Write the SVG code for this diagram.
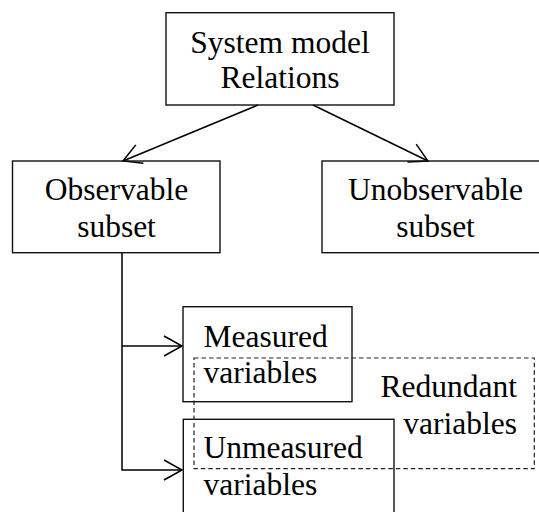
<svg xmlns="http://www.w3.org/2000/svg" width="539" height="512" viewBox="0 0 539 512">
<defs>
<style>
.box{fill:none;stroke:#111;stroke-width:1.4}
.dash{fill:none;stroke:#222;stroke-width:1.2;stroke-dasharray:4.5 3}
text{font-family:'Liberation Serif','DejaVu Serif',serif;font-size:31.5px;fill:#000}
.c{stroke:#000;stroke-width:1.5;fill:none}
</style>
<marker id="arr" markerUnits="userSpaceOnUse" markerWidth="24" markerHeight="24" refX="18" refY="10" orient="auto" overflow="visible">
<path d="M0,0 L18,10 L0,20" fill="none" stroke="#000" stroke-width="1.5"/>
</marker>
</defs>
<rect width="539" height="512" fill="#fff"/>
<g id="connectors">
<line class="c" x1="258" y1="105" x2="123" y2="161" marker-end="url(#arr)"/>
<line class="c" x1="313" y1="105" x2="428" y2="161" marker-end="url(#arr)"/>
<polyline class="c" points="122,253 122,470 182,470" marker-end="url(#arr)"/>
<line class="c" x1="122" y1="346" x2="182" y2="346" marker-end="url(#arr)"/>
</g>
<g id="system-model">
<rect class="box" x="166" y="12.7" width="228" height="92.3"/>
<text font-family="Liberation Serif" x="280" y="53" text-anchor="middle">System model</text>
<text font-family="Liberation Serif" x="280" y="87.5" text-anchor="middle">Relations</text>
</g>
<g id="observable">
<rect class="box" x="12.5" y="161" width="207.5" height="91.7"/>
<text font-family="Liberation Serif" x="116.5" y="200" text-anchor="middle">Observable</text>
<text font-family="Liberation Serif" x="116.5" y="236.7" text-anchor="middle">subset</text>
</g>
<g id="unobservable">
<rect class="box" x="322" y="161" width="227" height="91.7"/>
<text font-family="Liberation Serif" x="435.5" y="200" text-anchor="middle">Unobservable</text>
<text font-family="Liberation Serif" x="435.5" y="236.7" text-anchor="middle">subset</text>
</g>
<g id="measured">
<rect class="box" x="183" y="306.7" width="169" height="95"/>
<text font-family="Liberation Serif" x="203.5" y="346.7">Measured</text>
<text font-family="Liberation Serif" x="203.5" y="383">variables</text>
</g>
<g id="unmeasured">
<rect class="box" x="183.3" y="419.3" width="210.7" height="110"/>
<text font-family="Liberation Serif" x="203.5" y="458.3">Unmeasured</text>
<text font-family="Liberation Serif" x="203.5" y="495">variables</text>
</g>
<g id="redundant">
<rect class="dash" x="194" y="358" width="340.3" height="110.7"/>
<text font-family="Liberation Serif" x="517" y="396.7" text-anchor="end">Redundant</text>
<text font-family="Liberation Serif" x="517" y="434" text-anchor="end">variables</text>
</g>
</svg>
